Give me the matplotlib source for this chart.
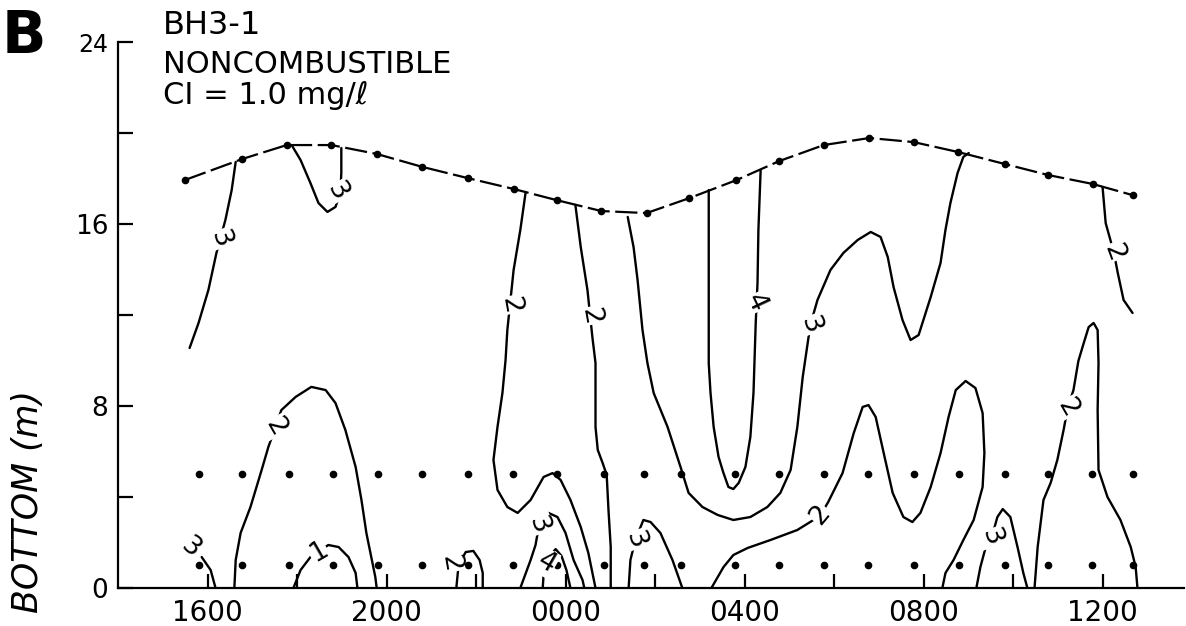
import numpy as np
import matplotlib.pyplot as plt

# time axis: hours after 1600
tick_hours = [0, 2, 4, 6, 8, 10, 12, 14, 16, 18, 20]
tick_names = ['1600', '', '2000', '', '0000', '', '0400', '', '0800', '', '1200']
height_ticks = [0, 4, 8, 12, 16, 20, 24]
height_names = ['0', '', '8', '', '16', '', '24']

# water surface (sampled)
surface_t = [-0.51, 0.78, 1.77, 2.77, 3.78, 4.80, 5.81, 6.84, 7.80, 8.80, 9.81,
             10.77, 11.82, 12.78, 13.77, 14.79, 15.78, 16.78, 17.81, 18.79, 19.78, 20.67]
surface_m = [17.93, 18.86, 19.47, 19.47, 19.08, 18.51, 18.02, 17.54, 17.05, 16.57, 16.48,
             17.14, 17.93, 18.77, 19.47, 19.78, 19.60, 19.16, 18.64, 18.15, 17.76, 17.27]

# sampling depths
row_t = [-0.20, 0.76, 1.81, 2.80, 3.82, 4.80, 5.81, 6.82, 7.82, 8.85, 9.76,
         10.58, 11.78, 12.76, 13.77, 14.75, 15.78, 16.80, 17.81, 18.78, 19.76, 20.67]
row_m = [5, 1]

# contour lines, (hours, metres)
c3_left = [(0.63, 18.73), (0.54, 17.49), (0.40, 16.18), (0.20, 14.73), (0.02, 13.10),
           (-0.20, 11.65), (-0.40, 10.55)]
c3_dip = [(1.88, 19.47), (2.08, 18.81), (2.30, 17.80), (2.48, 16.92), (2.68, 16.53),
          (2.86, 16.75), (2.97, 17.40), (2.99, 18.24), (2.99, 19.34)]
c2_dome = [(0.60, 0), (0.63, 1.23), (0.74, 2.42), (0.96, 3.56), (1.21, 5.19), (1.36, 6.20),
           (1.52, 7.08), (1.65, 7.82), (1.97, 8.40), (2.32, 8.84), (2.64, 8.70), (2.86, 8.13),
           (3.08, 6.95), (3.31, 5.32), (3.44, 3.87), (3.55, 2.42), (3.75, 0.48), (3.78, 0)]
c1_dome = [(1.92, 0), (2.08, 0.79), (2.30, 1.36), (2.70, 1.89), (2.93, 1.80), (3.15, 1.36),
           (3.31, 0.66), (3.35, 0)]
c3_corner = [(-0.13, 1.36), (0.07, 0.79), (0.18, 0)]
c2_loop = [(5.56, 0), (5.61, 1.01), (5.77, 1.58), (5.94, 1.63), (6.08, 1.23), (6.15, 0.66),
           (6.15, 0)]
c2_a = [(7.11, 17.41), (6.99, 15.74), (6.84, 13.98), (6.70, 11.34), (6.66, 10.02),
        (6.59, 8.57), (6.48, 7.08), (6.39, 5.63), (6.48, 4.31), (6.70, 3.56), (6.93, 3.30),
        (7.22, 3.87), (7.51, 4.88), (7.71, 5.05), (7.89, 4.75), (8.11, 3.87), (8.34, 2.68),
        (8.51, 1.54), (8.67, 0)]
c2_b = [(8.22, 16.84), (8.34, 14.99), (8.49, 13.10), (8.60, 11.03), (8.67, 9.89),
        (8.67, 7.08), (8.72, 6.07), (8.83, 5.49), (8.92, 4.97), (8.96, 3.43), (9.01, 1.80),
        (9.01, 0)]
c3_long = [(9.39, 16.31), (9.52, 14.99), (9.61, 13.54), (9.72, 11.34), (9.83, 9.89),
           (9.97, 8.57), (10.28, 7.08), (10.57, 5.32), (10.75, 4.18), (11.06, 3.56),
           (11.40, 3.21), (11.75, 2.99), (12.13, 3.12), (12.51, 3.56), (12.80, 4.18),
           (13.03, 5.19), (13.18, 7.08), (13.30, 9.27), (13.47, 11.56), (13.63, 12.66),
           (13.92, 13.98), (14.21, 14.73), (14.53, 15.30), (14.82, 15.65), (15.04, 15.43),
           (15.20, 14.55), (15.33, 13.23), (15.53, 11.78), (15.71, 10.90), (15.89, 11.12),
           (16.16, 12.79), (16.38, 14.29), (16.49, 15.74), (16.60, 16.92), (16.76, 18.24),
           (16.89, 18.95), (17.01, 19.12)]
c4 = [(11.20, 17.49), (11.20, 15.74), (11.20, 12.79), (11.20, 9.89), (11.24, 8.57),
      (11.31, 7.08), (11.42, 5.76), (11.53, 5.05), (11.64, 4.44), (11.75, 4.35),
      (11.87, 4.62), (12.02, 5.32), (12.13, 6.64), (12.20, 8.57), (12.25, 11.65),
      (12.29, 13.41), (12.31, 15.74), (12.36, 18.37)]
c3_small_a = [(6.99, 0), (7.22, 1.23), (7.33, 1.89), (7.40, 2.68), (7.62, 3.30), (7.82, 3.12),
              (8.00, 2.42), (8.18, 1.23), (8.38, 0.35), (8.42, 0)]
c4_small = [(7.49, 0), (7.51, 0.57), (7.62, 1.36), (7.78, 1.71), (7.91, 1.41), (8.02, 0.79),
            (8.11, 0)]
c3_small_b = [(9.41, 0), (9.45, 1.23), (9.56, 2.11), (9.74, 2.99), (9.90, 2.90), (10.12, 2.42),
              (10.39, 1.23), (10.61, 0)]
c2_wave = [(11.26, 0), (11.53, 0.92), (11.75, 1.45), (12.07, 1.76), (12.58, 2.11),
           (13.18, 2.55), (13.54, 2.99), (13.70, 3.21), (13.87, 3.78), (14.19, 5.05),
           (14.44, 6.81), (14.64, 7.96), (14.77, 8.04), (14.93, 7.52), (15.11, 5.93),
           (15.31, 4.18), (15.55, 3.12), (15.75, 2.90), (15.93, 3.30), (16.16, 4.44),
           (16.38, 5.93), (16.56, 7.52), (16.72, 8.70), (16.94, 9.10), (17.16, 8.79),
           (17.32, 7.69), (17.36, 5.93), (17.32, 4.44), (17.12, 2.99), (16.89, 2.11),
           (16.67, 1.23), (16.49, 0.66), (16.42, 0)]
c3_small_c = [(17.18, 0), (17.27, 0.92), (17.39, 1.80), (17.52, 2.20), (17.65, 3.12),
              (17.77, 3.47), (17.94, 3.12), (18.10, 1.80), (18.23, 0.66), (18.32, 0)]
c2_spike = [(18.48, 0), (18.55, 1.80), (18.68, 3.87), (18.84, 4.62), (18.99, 5.63),
            (19.13, 6.95), (19.22, 7.91), (19.35, 8.70), (19.46, 9.98), (19.58, 10.77),
            (19.69, 11.47), (19.80, 11.65), (19.89, 11.34), (19.91, 9.89), (19.89, 7.82),
            (19.91, 5.19), (20.11, 4.00), (20.40, 2.99), (20.63, 1.80), (20.74, 0.92),
            (20.78, 0)]
c2_top = [(20.00, 17.63), (20.07, 16.04), (20.25, 14.77), (20.34, 13.85), (20.47, 12.66),
          (20.67, 12.09)]

contours = [c3_left, c3_dip, c2_dome, c1_dome, c3_corner, c2_loop, c2_a, c2_b, c3_long, c4,
            c3_small_a, c4_small, c3_small_b, c2_wave, c3_small_c, c2_spike, c2_top]

# contour labels: hours, metres, text, rotation
label_t = [0.29, 2.91, 1.52, 2.48, -0.36, 5.43, 6.77, 8.55, 13.47, 12.25, 7.40, 7.58,
           9.56, 13.70, 17.52, 19.22, 20.25]
label_m = [15.34, 17.41, 7.08, 1.58, 1.76, 1.10, 12.44, 11.96, 11.56, 12.53, 2.77, 1.10,
           2.11, 3.21, 2.20, 7.91, 14.77]
label_txt = ['3', '3', '2', '1', '3', '2', '2', '2', '3', '4', '3', '4', '3', '2', '3', '2', '2']
label_rot = [-70, -60, -60, 30, -40, -80, -80, -80, -70, -65, -70, -30, -70, 50, -70, -60, -70]

fig = plt.figure(figsize=(11.86, 6.26), dpi=100)
ax = fig.add_axes([118 / 1186, 38 / 626, 1066 / 1186, 546 / 626])
ax.set_xlim(-2.0, 21.82)
ax.set_ylim(0, 24)

ax.spines['top'].set_visible(False)
ax.spines['right'].set_visible(False)
ax.spines['left'].set_linewidth(1.6)
ax.spines['bottom'].set_linewidth(1.6)

ax.set_xticks(tick_hours)
ax.set_xticklabels(tick_names)
ax.set_yticks(height_ticks)
ax.set_yticklabels(height_names)
ax.tick_params(axis='x', direction='in', length=10, width=1.6, pad=8, labelsize=20)
ax.tick_params(axis='y', direction='in', length=11, width=1.6, pad=7, labelsize=19)
ax.get_yticklabels()[-1].set_fontsize(17)

# surface line and sample points
ax.plot(surface_t, surface_m, color='black', lw=1.6, linestyle=(0, (10, 2.5)), clip_on=False)
ax.plot(surface_t, surface_m, 'o', color='black', ms=4.5, clip_on=False)
for m in row_m:
    ax.plot(row_t, [m] * len(row_t), 'o', color='black', ms=4.5, linestyle='none')

for line in contours:
    ts = [p[0] for p in line]
    ms = [p[1] for p in line]
    ax.plot(ts, ms, color='black', lw=1.7, solid_capstyle='round', solid_joinstyle='round')

for t, m, s, r in zip(label_t, label_m, label_txt, label_rot):
    ax.text(t, m, s, fontsize=19, rotation=r, ha='center', va='center',
            bbox=dict(facecolor='white', edgecolor='none', pad=0.5))

# header text
fig.text(163 / 1186, 1 - 10 / 626, 'BH3-1', fontsize=23, va='top', ha='left')
fig.text(163 / 1186, 1 - 50 / 626, 'NONCOMBUSTIBLE', fontsize=22, va='top', ha='left')
fig.text(163 / 1186, 1 - 81 / 626, 'CI = 1.0 mg/ℓ', fontsize=22, va='top', ha='left')
fig.text(2 / 1186, 1 - 8 / 626, 'B', fontsize=42, fontweight='bold', va='top', ha='left')
fig.text(28 / 1186, 1 - 390 / 626, 'BOTTOM (m)', fontsize=25, style='italic',
         rotation=90, ha='center', va='top')

fig.savefig('out.png', dpi=100, facecolor='white')
